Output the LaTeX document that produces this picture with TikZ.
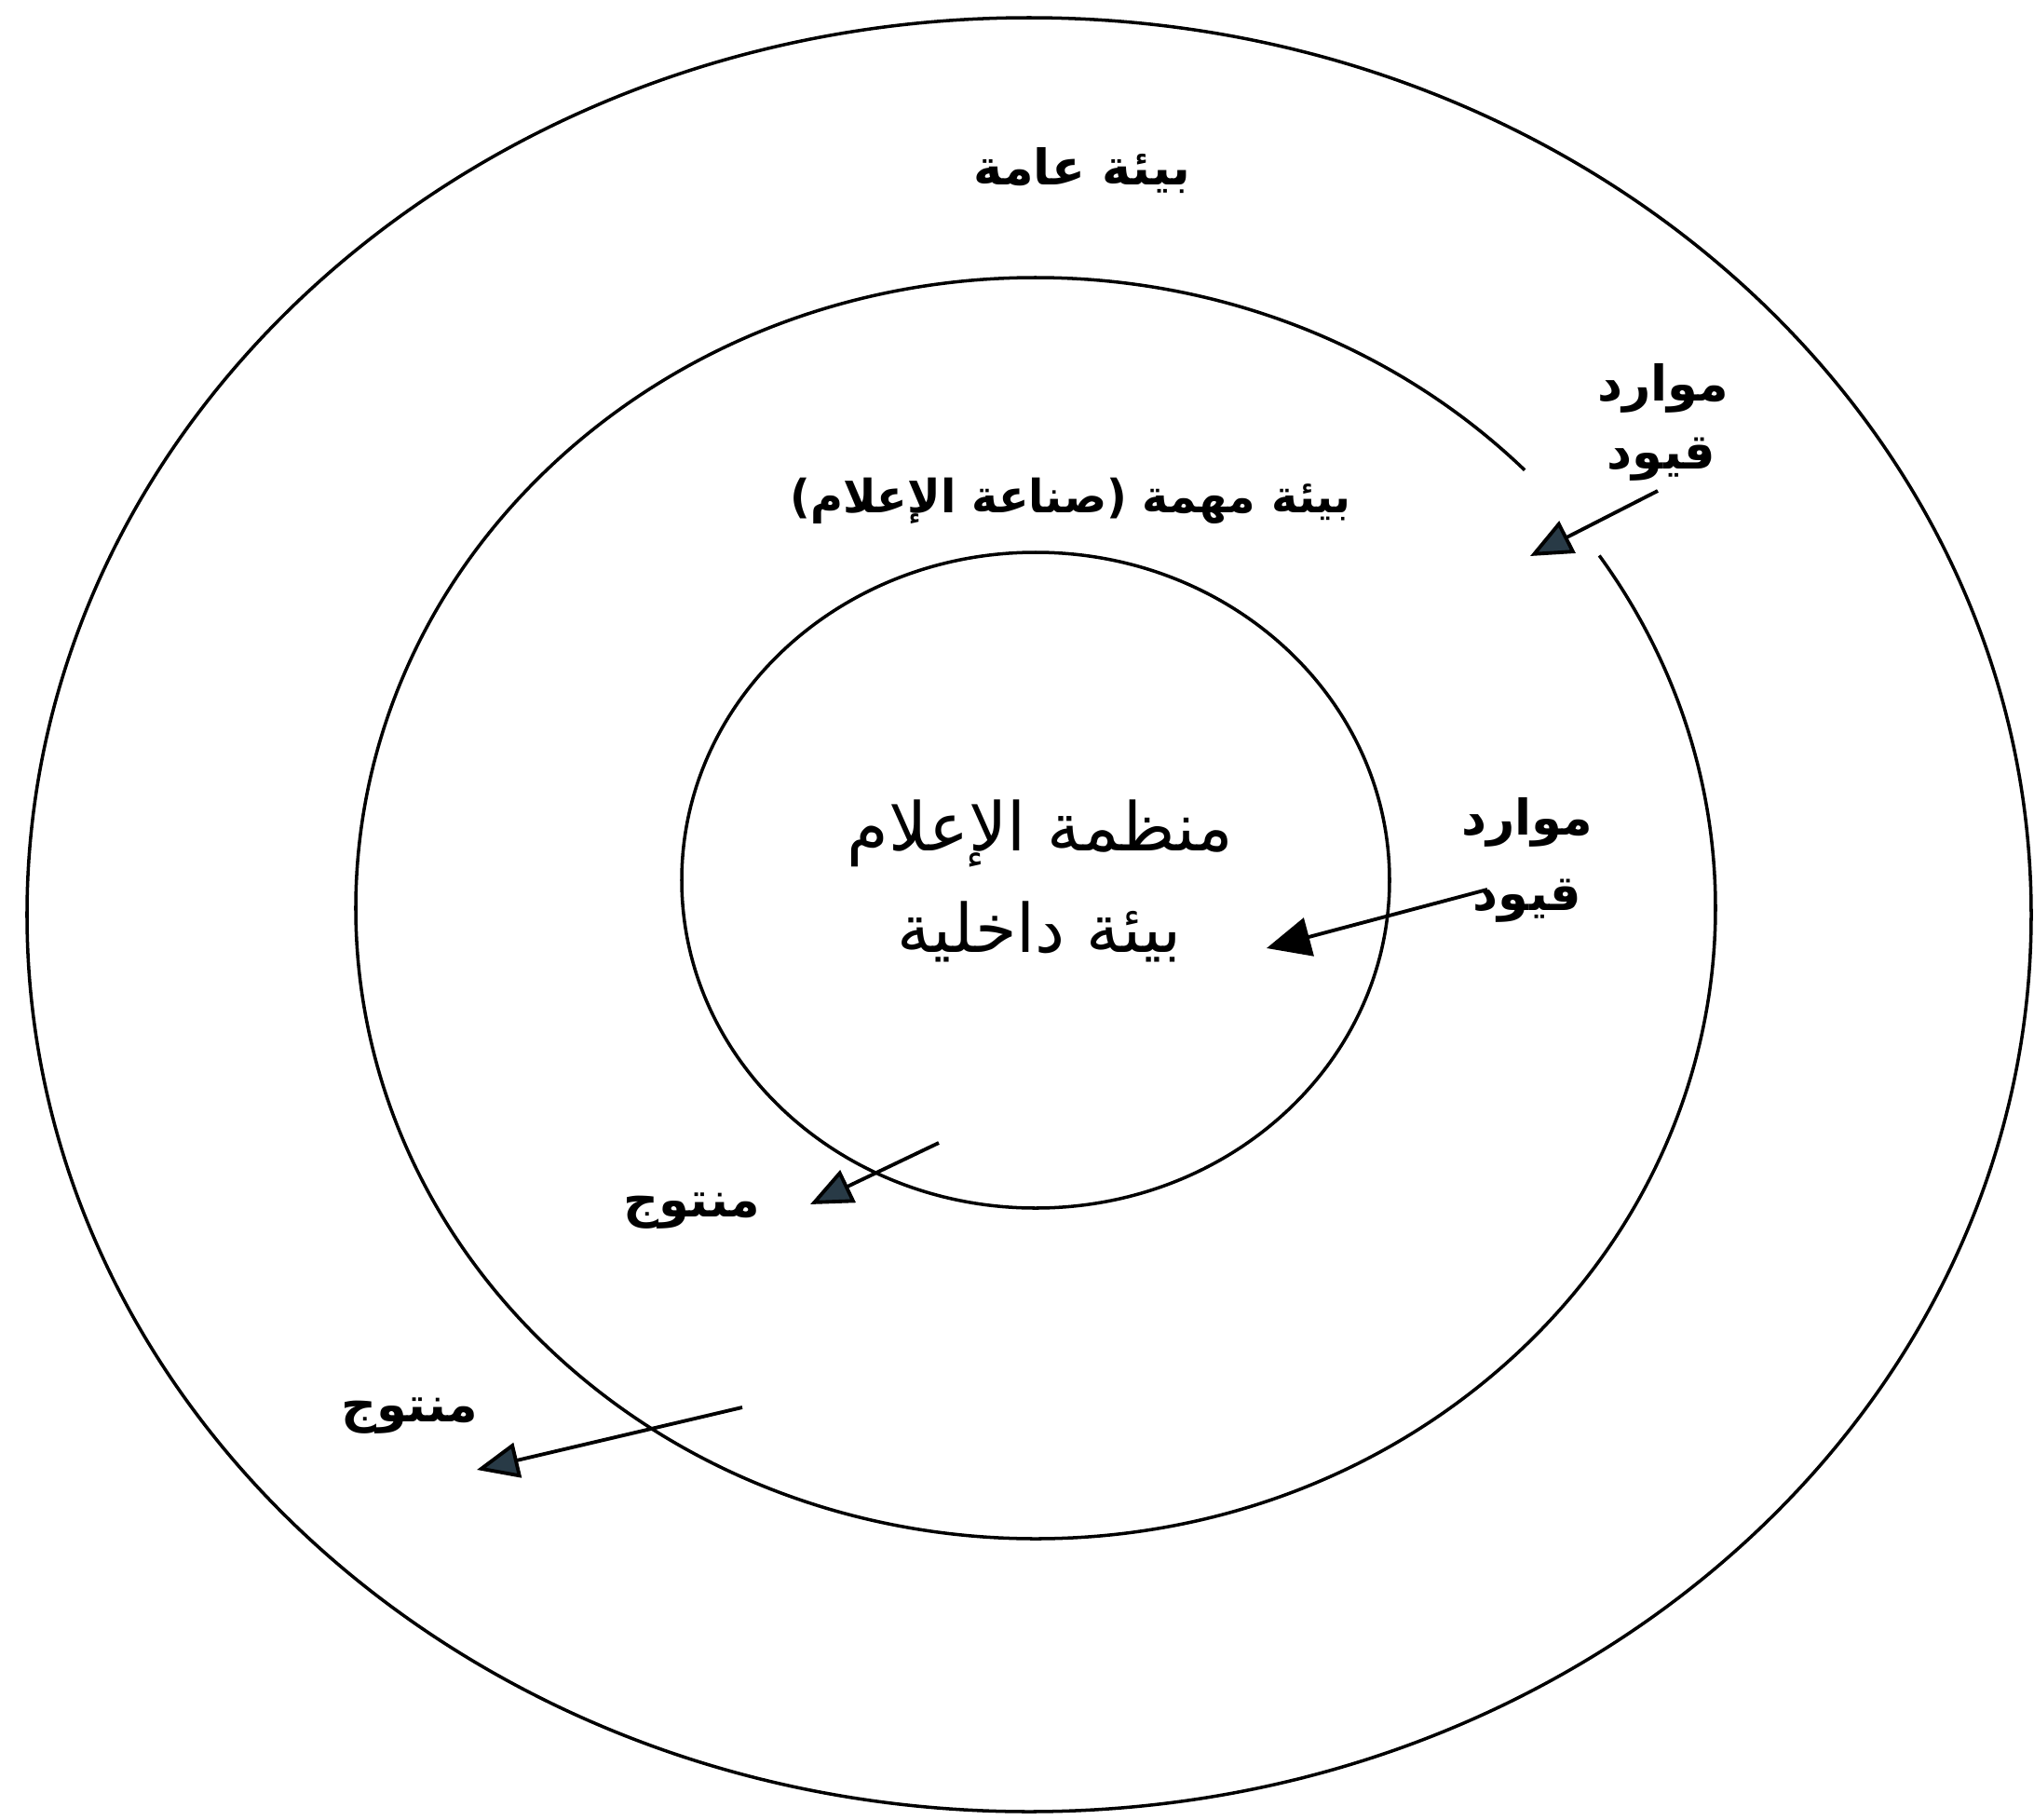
\documentclass[tikz,border=0pt]{standalone}
\usepackage{fontspec}
\usetikzlibrary{arrows.meta}
\TeXXeTstate=1
\newfontfamily\arabicfont[Script=Arabic]{DejaVu Sans}
\definecolor{tipcol}{RGB}{40,58,70}
\tikzset{
  ring/.style={line width=1pt, draw=black},
  lbl/.style={font=\arabicfont\bfseries\fontsize{15}{18}\selectfont, inner sep=0pt},
  tasklbl/.style={font=\arabicfont\bfseries\fontsize{14}{17}\selectfont, inner sep=0pt, xscale=0.97},
  biglbl/.style={font=\arabicfont\fontsize{20.5}{26}\selectfont, inner sep=0pt},
  arr/.style={line width=1.1pt, draw=black, -{Triangle[length=0.45cm, width=0.38cm, fill=tipcol]}},
  arrb/.style={line width=1.1pt, draw=black, -{Triangle[length=0.47cm, width=0.42cm, fill=black]}},
}
\begin{document}
\begin{tikzpicture}
\useasboundingbox (0,0) rectangle (21.84,-19.54);
\fill[white] (0,0) rectangle (21.84,-19.54);
% rings
\draw[ring] (11.05,-9.82) ellipse [x radius=10.76, y radius=9.63];
\draw[ring] ([shift={(44:7.30 and 6.77)}]11.12,-9.75) arc[start angle=44, end angle=394, x radius=7.30, y radius=6.77];
\draw[ring] (11.12,-9.45) ellipse [x radius=3.80, y radius=3.52];
% labels
\node[lbl] (general) at (11.62,-1.83) {\beginR بيئة عامة\endR};
\node[tasklbl] (task) at (11.50,-5.38) {\beginR بيئة مهمة (صناعة الإعلام)\endR};
\node[biglbl] (org) at (11.17,-8.95) {\beginR منظمة الإعلام\endR};
\node[biglbl] (inner) at (11.16,-10.00) {\beginR بيئة داخلية\endR};
\node[lbl] (resA) at (17.86,-4.17) {\beginR موارد\endR};
\node[lbl] (conA) at (17.84,-4.93) {\beginR قيود\endR};
\node[lbl] (resB) at (16.40,-8.83) {\beginR موارد\endR};
\node[lbl] (conB) at (16.40,-9.67) {\beginR قيود\endR};
\node[lbl] (outA) at (7.43,-13.00) {\beginR منتوج\endR};
\node[lbl] (outB) at (4.40,-15.20) {\beginR منتوج\endR};
% arrow ends
\coordinate (a1s) at (17.80,-5.27);
\coordinate (a1e) at (16.43,-5.97);
\coordinate (a2s) at (15.97,-9.55);
\coordinate (a2e) at (13.60,-10.18);
\coordinate (a3s) at (10.08,-12.27);
\coordinate (a3e) at (8.70,-12.93);
\coordinate (a4s) at (7.97,-15.11);
\coordinate (a4e) at (5.12,-15.78);
\draw[arr] (a1s) -- (a1e);
\draw[arrb] (a2s) -- (a2e);
\draw[arr] (a3s) -- (a3e);
\draw[arr] (a4s) -- (a4e);
\end{tikzpicture}
\end{document}
